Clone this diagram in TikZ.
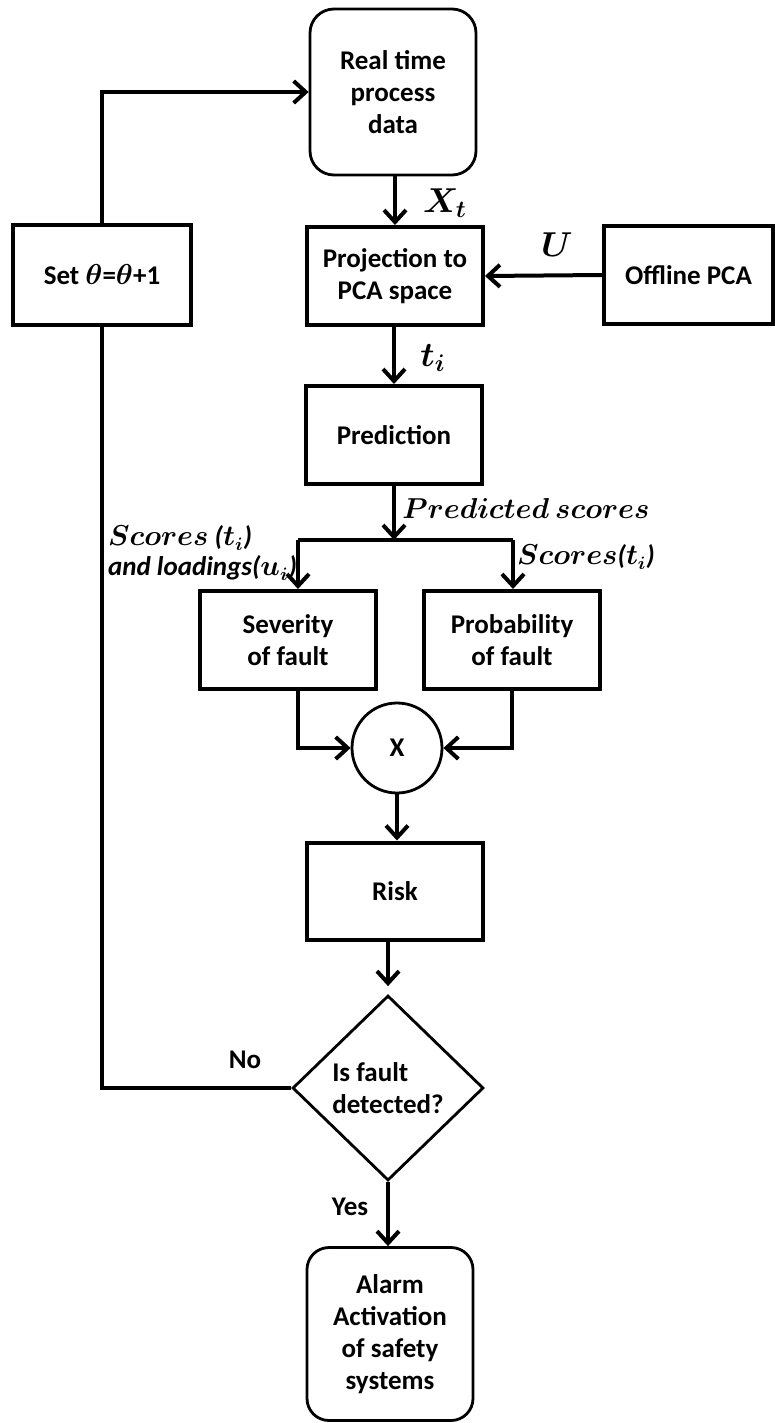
\documentclass[tikz,border=0pt]{standalone}
\usepackage{amsmath}
\usepackage{bm}
\usepackage{fontspec}
\setmainfont{Carlito}
\usetikzlibrary{shapes.geometric,arrows.meta}

\begin{document}
\begin{tikzpicture}[x=0.5pt,y=-0.5pt,
    font=\fontsize{13.5}{16}\selectfont\bfseries\boldmath,
    blk/.style={draw,line width=2pt,align=center,minimum width=88pt,minimum height=49pt,inner sep=2pt},
    rbox/.style={draw,line width=1.4pt,rounded corners=12pt,align=center,minimum width=83pt,inner sep=2pt},
    conn/.style={line width=2pt},
    arr/.style={conn,-{Straight Barb[length=6pt,width=11pt,line width=2pt]}},
    mlbl/.style={font=\fontsize{17}{20}\selectfont\boldmath},
    ilbl/.style={font=\fontsize{13.5}{15}\selectfont\bfseries\itshape\boldmath,align=left}]
  \useasboundingbox (0,0) rectangle (775,1423);

  % blocks
  \node[rbox,minimum height=83pt] (real) at (393,92) {Real time\\process\\data};
  \node[blk] (proj) at (395,276) {Projection to\\PCA space};
  \node[blk,minimum width=89pt,minimum height=50pt] (setth) at (102,275) {Set $\theta$=$\theta$+1};
  \node[blk,minimum width=84.5pt,minimum height=49pt] (offline) at (688.5,275) {Offline PCA};
  \node[blk] (pred) at (394,435) {Prediction};
  \node[blk] (sev) at (288,640) {Severity\\of fault};
  \node[blk] (prob) at (512,640) {Probability\\of fault};
  \node[draw,circle,line width=1.4pt,minimum size=45pt,inner sep=0pt] (mult) at (397,748) {X};
  \node[blk,minimum height=48.5pt] (risk) at (395,891) {Risk};
  \node[draw,diamond,line width=1.4pt,minimum width=95.5pt,minimum height=92.5pt,inner sep=1pt,align=left] (detect) at (388,1088) {Is fault\\detected?};
  \node[rbox,minimum height=86.5pt,rounded corners=11pt] (alarm) at (390,1334) {Alarm\\Activation\\of safety\\systems};

  % labels
  \node[mlbl] (xt) at (445,203) {$X_t$};
  \node[mlbl] (u) at (557,245) {$U$};
  \node[mlbl] (ti) at (433,358) {$t_i$};
  \node[ilbl] (predsc) at (526,508) {$Predicted\ scores$};
  \node[ilbl,anchor=west] (scleft) at (101,553) {$Scores$ ($t_i$)\\and loadings($u_i$)};
  \node[ilbl] (scright) at (586,557) {$Scores$($t_i$)};
  \node (no) at (245,1060) {No};
  \node (yes) at (350,1207) {Yes};

  \coordinate (sl) at (298,540);
  \coordinate (sr) at (513,540);

  % connectors
  \draw[arr] (setth.north) |- (real.west);
  \draw[arr] (real.south -| proj.north) -- (proj.north);
  \draw[arr] (offline.west) -- (proj.east);
  \draw[arr] (proj.south -| pred.north) -- (pred.north);
  \draw[arr] (pred.south) -- (pred.south |- sl);
  \draw[conn] (sl) -- (sr);
  \draw[arr] (sl) -- (sl |- sev.north);
  \draw[arr] (sr) -- (sr |- prob.north);
  \draw[arr] (sev.south -| sl) |- (mult.west);
  \draw[arr] (prob.south) |- (mult.east);
  \draw[arr] (mult.south) -- (mult.south |- risk.north);
  \draw[arr,shorten >=4pt] (risk.south -| detect.north) -- (detect.north);
  \draw[arr] (detect.south) -- (detect.south |- alarm.north);
  \draw[conn] (detect.west) -| (setth.south);
\end{tikzpicture}
\end{document}
